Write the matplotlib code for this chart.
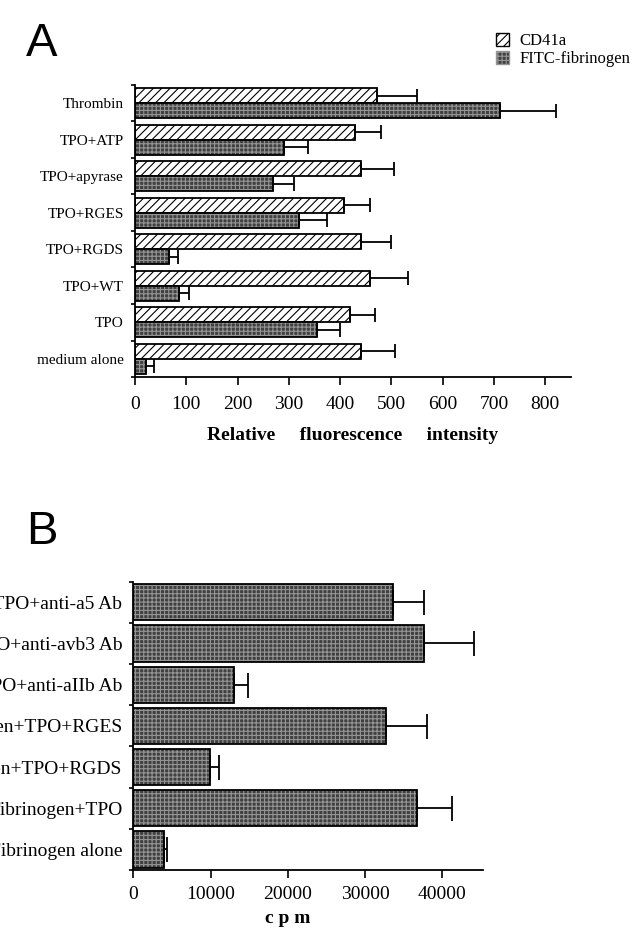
import numpy as np
import matplotlib.pyplot as plt
from matplotlib.patches import Patch

plt.rcParams['font.family'] = ['Liberation Serif', 'DejaVu Serif']
plt.rcParams['hatch.linewidth'] = 0.8

# Panel A data (relative fluorescence intensity)
a_labels = ["Thrombin", "TPO+ATP", "TPO+apyrase", "TPO+RGES", "TPO+RGDS",
            "TPO+WT", "TPO", "medium alone"]
cd41a = [471, 429, 440, 408, 440, 458, 420, 440]
cd41a_top = [549, 480, 505, 458, 500, 533, 468, 507]
fitc = [711, 290, 270, 320, 67, 86, 355, 21]
fitc_top = [821, 338, 310, 375, 84, 105, 400, 37]

# Panel B data (cpm)
b_labels = ["Fibrinogen+TPO+anti-a5 Ab", "Fibrinogen+TPO+anti-avb3 Ab",
            "Fibrinogen+TPO+anti-aIIb Ab", "Fibrinogen+TPO+RGES",
            "Fibrinogen+TPO+RGDS", "Fibrinogen+TPO", "Fibrinogen alone"]
cpm = [33650, 37670, 13040, 32670, 9930, 36680, 4010]
cpm_top = [37630, 44140, 14890, 37980, 11130, 41210, 4320]

DARK = '#404040'
GRID = '#959595'


def dark_bars(ax, y, w, h):
    ax.barh(y, w, height=h, color=DARK, edgecolor=GRID, hatch='++++', linewidth=0)
    ax.barh(y, w, height=h, fill=False, edgecolor='black', linewidth=1.3)


def style_axes(ax, n, labelsize, xpad):
    for s in ['top', 'right']:
        ax.spines[s].set_visible(False)
    for s in ['left', 'bottom']:
        ax.spines[s].set_linewidth(1.3)
    ax.set_yticks(np.arange(n))
    ax.set_yticks(np.arange(-0.5, n, 1), minor=True)
    ax.set_ylim(n - 0.5, -0.5)
    ax.tick_params(axis='y', which='major', length=0, pad=8, labelsize=labelsize)
    ax.tick_params(axis='y', which='minor', length=3, width=1.2)
    ax.tick_params(axis='x', length=5.5, width=1.2, labelsize=14, pad=xpad)


W, H = 634, 930
fig = plt.figure(figsize=(W / 100, H / 100), dpi=100)

# ---- Panel A ----
axA = fig.add_axes([135 / W, 1 - 377 / H, (571 - 135) / W, (377 - 85) / H])
y = np.arange(len(a_labels))
off, bh = 0.21, 0.41
axA.barh(y - off, cd41a, height=bh, color='white', edgecolor='black',
         hatch='////', linewidth=1.3)
dark_bars(axA, y + off, fitc, bh)
axA.errorbar(cd41a, y - off, xerr=[np.zeros(len(y)), np.subtract(cd41a_top, cd41a)],
             fmt='none', ecolor='black', elinewidth=1.3, capsize=5, capthick=1.3)
axA.errorbar(fitc, y + off, xerr=[np.zeros(len(y)), np.subtract(fitc_top, fitc)],
             fmt='none', ecolor='black', elinewidth=1.3, capsize=5, capthick=1.3)
style_axes(axA, len(a_labels), 11, 8)
axA.set_yticklabels(a_labels)
axA.set_xlim(0, 850)
axA.set_xticks(range(0, 900, 100))
axA.set_xlabel("Relative     fluorescence     intensity", fontsize=14,
               fontweight='bold', labelpad=10)

handles = [Patch(facecolor='white', edgecolor='black', hatch='////'),
           Patch(facecolor=DARK, edgecolor=GRID, hatch='++++')]
fig.legend(handles, ["CD41a", "FITC-fibrinogen"], loc='upper left',
           bbox_to_anchor=(496 / W, 1 - 33 / H), frameon=False, fontsize=12,
           handlelength=0.8, handleheight=0.8, handletextpad=0.6,
           labelspacing=0.1, borderaxespad=0, borderpad=0)

fig.text(26 / W, 1 - 22 / H, "A", fontsize=34, family='Liberation Sans', va='top')

# ---- Panel B ----
axB = fig.add_axes([133.3 / W, 1 - 870 / H, (483.3 - 133.3) / W, (870 - 581.7) / H])
yb = np.arange(len(b_labels))
dark_bars(axB, yb, cpm, 0.88)
axB.errorbar(cpm, yb, xerr=[np.zeros(len(yb)), np.subtract(cpm_top, cpm)],
             fmt='none', ecolor='black', elinewidth=1.3, capsize=9, capthick=1.3)
style_axes(axB, len(b_labels), 14, 6)
axB.set_yticklabels(b_labels)
axB.set_xlim(0, 45300)
axB.set_xticks(range(0, 45000, 10000))
axB.set_xlabel("c p m", fontsize=14, fontweight='bold', labelpad=5,
               x=(288 - 133.3) / 350)

fig.text(26 / W, 1 - 510 / H, "B", fontsize=34, family='Liberation Sans', va='top')

plt.savefig("out.png", dpi=100)
